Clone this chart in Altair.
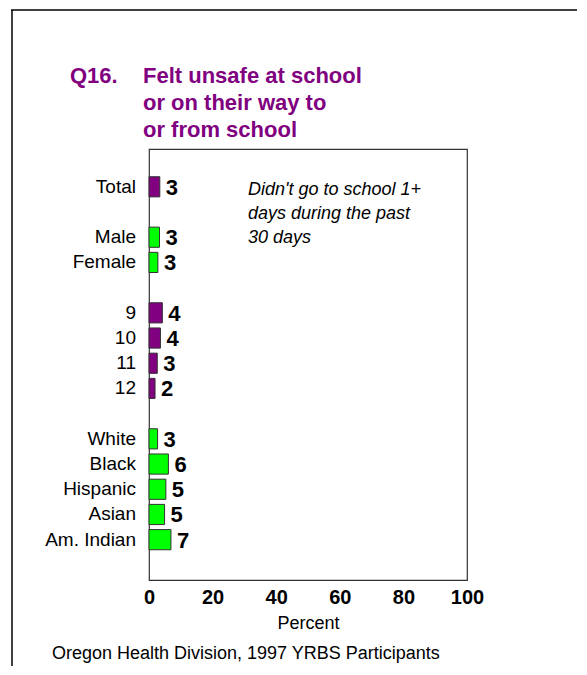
import altair as alt
import pandas as pd

FONT = "Liberation Sans"
PURPLE = "#800080"
GREEN = "#00FF00"

categories = ["Total", "Male", "Female", "9", "10", "11", "12",
              "White", "Black", "Hispanic", "Asian", "Am. Indian"]
rows = [0, 2, 3, 5, 6, 7, 8, 10, 11, 12, 13, 14]
values = [3.4, 3.3, 2.8, 4.2, 3.6, 2.6, 1.9, 2.7, 6.1, 5.3, 4.9, 6.9]
groups = ["total", "sex", "sex", "grade", "grade", "grade", "grade",
          "race", "race", "race", "race", "race"]
x_ticks = [0, 20, 40, 60, 80, 100]

title_lines = ["Felt unsafe at school", "or on their way to", "or from  school"]
note_lines = ["Didn't go to school 1+", "days during the past", "30 days"]

df = pd.DataFrame({"cat": categories, "row": rows, "value": values, "group": groups})
df["y0"] = df["row"] - 0.4
df["y1"] = df["row"] + 0.4
df["label"] = df["value"].round(0).astype(int).astype(str)

W, H = 318, 431
yscale = alt.Scale(domain=[-1.5, 15.6], reverse=True)
xscale = alt.Scale(domain=[0, 100], nice=False)

base = alt.Chart(df)

bars = base.mark_bar(strokeWidth=1, stroke="#333333").encode(
    x=alt.X("value:Q", scale=xscale,
            axis=alt.Axis(values=x_ticks, title="Percent", grid=False, ticks=False, domain=False,
                          labelFlush=False,
                          labelFont=FONT, labelFontSize=20, labelFontWeight="bold",
                          labelColor="black", labelPadding=7,
                          titleFont=FONT, titleFontSize=18, titleFontWeight="normal",
                          titleColor="black", titlePadding=7)),
    x2=alt.value(0),
    y=alt.Y("y0:Q", scale=yscale, axis=None),
    y2="y1:Q",
    fill=alt.Fill("group:N", scale=alt.Scale(domain=["total", "sex", "grade", "race"],
                                             range=[PURPLE, GREEN, PURPLE, GREEN]), legend=None),
)

vals = base.mark_text(align="left", baseline="middle", dx=6, dy=1, font=FONT,
                      fontSize=22, fontWeight="bold", color="black").encode(
    x=alt.X("value:Q", scale=xscale),
    y=alt.Y("row:Q", scale=yscale),
    text="label:N",
)

cats = base.mark_text(align="right", baseline="middle", font=FONT, fontSize=19,
                      color="black").encode(
    x=alt.value(-13),
    y=alt.Y("row:Q", scale=yscale),
    text="cat:N",
)

tl = pd.DataFrame({"t": title_lines, "yy": [-66, -39, -12]})
title = alt.Chart(tl).mark_text(align="left", baseline="alphabetic", font=FONT,
                                fontSize=22, fontWeight="bold", color=PURPLE).encode(
    x=alt.value(-6), y=alt.Y("yy:Q", scale=None), text="t:N")
q = alt.Chart(pd.DataFrame({"t": ["Q16."]})).mark_text(
    align="left", baseline="alphabetic", font=FONT, fontSize=22, fontWeight="bold",
    color=PURPLE).encode(x=alt.value(-79), y=alt.value(-66), text="t:N")

nl = pd.DataFrame({"t": note_lines, "yy": [46, 70, 94]})
note = alt.Chart(nl).mark_text(align="left", baseline="alphabetic", font=FONT,
                               fontSize=18, fontStyle="italic", color="black").encode(
    x=alt.value(99), y=alt.Y("yy:Q", scale=None), text="t:N")

footer = alt.Chart(pd.DataFrame({"t": ["Oregon Health Division, 1997 YRBS Participants"]})).mark_text(
    align="left", baseline="alphabetic", font=FONT, fontSize=18, color="black").encode(
    x=alt.value(-97), y=alt.value(510), text="t:N")

top_border = alt.Chart(pd.DataFrame({"a": [0]})).mark_rule(color="black", strokeWidth=1.5).encode(
    x=alt.value(-138), x2=alt.value(460), y=alt.value(-139))
left_border = alt.Chart(pd.DataFrame({"a": [0]})).mark_rule(color="black", strokeWidth=1.5).encode(
    x=alt.value(-137), y=alt.value(-139), y2=alt.value(540))

chart = alt.layer(bars, vals, cats, title, q, note, footer, top_border, left_border).properties(
    width=W, height=H,
    autosize=alt.AutoSizeParams(type="none"),
    padding={"left": 141, "top": 141, "right": 110, "bottom": 86},
).configure(background="white").configure_view(stroke="#333333", strokeWidth=1.2)

chart.save("out.html", embed_options={"renderer": "svg", "actions": False})
